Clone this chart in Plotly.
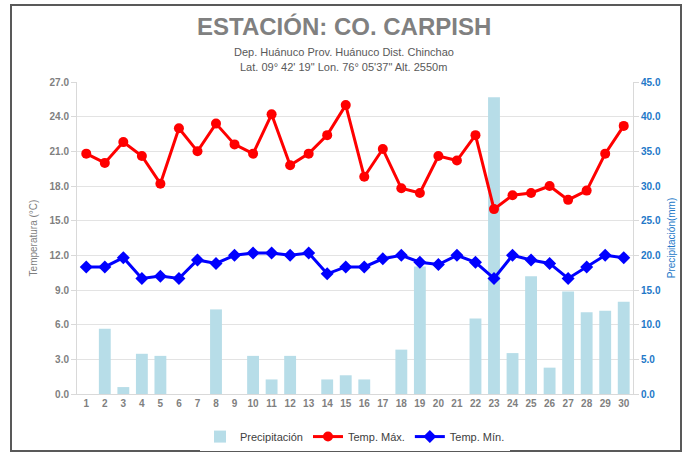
import plotly.graph_objects as go

days = list(range(1, 31))
precip = [0.0, 9.4, 1.0, 5.8, 5.5, 0.0, 0.0, 12.2, 0.0, 5.5,
          2.1, 5.5, 0.0, 2.1, 2.7, 2.1, 0.0, 6.4, 18.4, 0.0,
          0.0, 10.9, 42.8, 5.9, 17.0, 3.8, 14.8, 11.8, 12.0, 13.3]
tmax = [20.8, 20.0, 21.8, 20.6, 18.2, 23.0, 21.0, 23.4, 21.6, 20.8,
        24.2, 19.8, 20.8, 22.4, 25.0, 18.8, 21.2, 17.8, 17.4, 20.6,
        20.2, 22.4, 16.0, 17.2, 17.4, 18.0, 16.8, 17.6, 20.8, 23.2]
tmin = [11.0, 11.0, 11.8, 10.0, 10.2, 10.0, 11.6, 11.3, 12.0, 12.2,
        12.2, 12.0, 12.2, 10.4, 11.0, 11.0, 11.7, 12.0, 11.4, 11.2,
        12.0, 11.4, 10.0, 12.0, 11.6, 11.3, 10.0, 11.0, 12.0, 11.8]
temp_ticks = [0, 3, 6, 9, 12, 15, 18, 21, 24, 27]
precip_ticks = [0, 5, 10, 15, 20, 25, 30, 35, 40, 45]

FONT = "Liberation Sans, Arial, sans-serif"
GRAY = "#7f7f7f"
BLUE_AX = "#2378c8"

fig = go.Figure()
fig.add_trace(go.Bar(x=days, y=precip, name="Precipitación",
                     marker=dict(color="#b7dde8", line=dict(width=0)),
                     width=0.64, yaxis="y"))
fig.add_trace(go.Scatter(x=days, y=tmax, name="Temp. Máx.", mode="lines+markers",
                         line=dict(color="#ff0000", width=3),
                         marker=dict(symbol="circle", size=10, color="#ff0000"),
                         yaxis="y2"))
fig.add_trace(go.Scatter(x=days, y=tmin, name="Temp. Mín.", mode="lines+markers",
                         line=dict(color="#0000ff", width=3),
                         marker=dict(symbol="diamond", size=10, color="#0000ff"),
                         yaxis="y2"))

fig.update_layout(
    width=686, height=454,
    margin=dict(l=77, r=53, t=82, b=60, autoexpand=False),
    paper_bgcolor="white", plot_bgcolor="white",
    font=dict(family=FONT, color=GRAY, size=10),
    showlegend=True,
    barmode="overlay",
    legend=dict(orientation="h", x=0.5, xanchor="center", y=-0.09, yanchor="top",
                font=dict(size=11, color="#404040", family=FONT),
                itemwidth=30, tracegroupgap=0),
    xaxis=dict(range=[0.5, 30.5], tickmode="array", tickvals=days,
               ticktext=[f"<b>{d}</b>" for d in days], showgrid=False,
               showline=True, linecolor="#d9d9d9", linewidth=1,
               ticks="", tickfont=dict(size=10, color=GRAY, family=FONT),
               zeroline=False, automargin=False),
    yaxis=dict(side="right", range=[0, 45], tickmode="array", tickvals=precip_ticks,
               ticktext=[f"<b>{v:.1f}</b>" for v in precip_ticks],
               showgrid=False, zeroline=False,
               showline=True, linecolor="#d9d9d9", linewidth=1,
               ticks="outside", ticklen=5, tickcolor="#d9d9d9",
               tickfont=dict(size=10, color=BLUE_AX, family=FONT),
               automargin=False,
               title=dict(text="Precipitación(mm)", font=dict(size=10, color=BLUE_AX, family=FONT),
                          standoff=8)),
    yaxis2=dict(side="left", overlaying="y", range=[0, 27], tickmode="array",
                tickvals=temp_ticks, ticktext=[f"<b>{v:.1f}</b>" for v in temp_ticks],
                showgrid=True, gridcolor="#e3e3e3", gridwidth=1, zeroline=False,
                showline=True, linecolor="#d9d9d9", linewidth=1,
                ticks="outside", ticklen=5, tickcolor="#d9d9d9",
                tickfont=dict(size=10, color=GRAY, family=FONT),
                automargin=False,
                title=dict(text="Temperatura (°C)", font=dict(size=10, color=GRAY, family=FONT),
                           standoff=10)),
)

# Title and subtitles
fig.add_annotation(text="<b>ESTACIÓN: CO. CARPISH</b>", xref="paper", yref="paper",
                   x=0.48, y=(394 - 27) / 312, xanchor="center", yanchor="middle",
                   showarrow=False, font=dict(size=24, color="#808080", family=FONT))
fig.add_annotation(text="Dep. Huánuco Prov. Huánuco Dist. Chinchao", xref="paper", yref="paper",
                   x=0.48, y=(394 - 52) / 312, xanchor="center", yanchor="middle",
                   showarrow=False, font=dict(size=11, color="#595959", family=FONT))
fig.add_annotation(text="Lat. 09° 42' 19\" Lon. 76° 05'37\" Alt. 2550m", xref="paper", yref="paper",
                   x=0.48, y=(394 - 67) / 312, xanchor="center", yanchor="middle",
                   showarrow=False, font=dict(size=11, color="#595959", family=FONT))

# Outer border
fig.add_shape(type="rect", xref="paper", yref="paper",
              x0=(11 - 77) / 556, x1=(681 - 77) / 556,
              y0=(394 - 451) / 312, y1=(394 - 5) / 312,
              line=dict(color="#595959", width=2), fillcolor="rgba(0,0,0,0)", layer="above")

fig.write_html("out.html", config={"displayModeBar": False},
               post_script="document.body.style.margin='0';document.body.style.overflow='hidden';")
